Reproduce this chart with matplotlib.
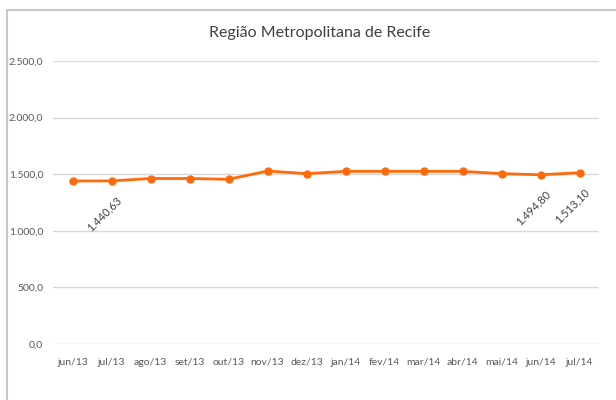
import matplotlib
matplotlib.use("Agg")
import matplotlib.pyplot as plt
from matplotlib.patches import Rectangle
from matplotlib.ticker import FuncFormatter

plt.rcParams['font.family'] = ['Lato', 'DejaVu Sans']

categories = ["jun/13", "jul/13", "ago/13", "set/13", "out/13", "nov/13", "dez/13",
              "jan/14", "fev/14", "mar/14", "abr/14", "mai/14", "jun/14", "jul/14"]
values = [1440.0, 1440.63, 1462.0, 1462.0, 1455.0, 1528.0, 1505.0,
          1525.0, 1525.0, 1525.0, 1525.0, 1505.0, 1494.80, 1513.10]
labeled = {1: "1.440,63", 12: "1.494,80", 13: "1.513,10"}
yticks = [0, 500, 1000, 1500, 2000, 2500]
title = "Região Metropolitana de Recife"

W, H = 616, 400
fig = plt.figure(figsize=(W / 100, H / 100), dpi=100)
ax = fig.add_axes([53 / W, 1 - 344 / H, (599 - 53) / W, (344 - 61) / H])

x = list(range(len(categories)))
ax.plot(x, values, color="#FF6A0A", lw=2.0, marker="o", ms=5, zorder=3,
        solid_capstyle="round")

for i, txt in labeled.items():
    ax.annotate(txt, (x[i], values[i]), xytext=(-7, -33), textcoords="offset pixels",
                ha="center", va="center", rotation=45, fontsize=8, color="#404040")

ax.set_xlim(-0.5, len(categories) - 0.5)
ax.set_ylim(0, 2500)
ax.set_yticks(yticks)
ax.yaxis.set_major_formatter(FuncFormatter(
    lambda v, p: f"{v:,.1f}".replace(",", "X").replace(".", ",").replace("X", ".")))
ax.set_xticks(x)
ax.set_xticklabels(categories)
ax.grid(axis="y", color="#D9D9D9", lw=1)
ax.set_axisbelow(True)
for s in ax.spines.values():
    s.set_visible(False)
ax.tick_params(axis="both", length=0, labelsize=7.5, colors="#595959")
ax.tick_params(axis="y", pad=7)
ax.tick_params(axis="x", pad=10)

fig.text(320 / W, 1 - 33 / H, title, ha="center", va="center", fontsize=11.5, color="#404040")

fig.patches.append(Rectangle((7 / W, -0.1), 1.2, 1 - 10 / H + 0.1, transform=fig.transFigure,
                             fill=False, edgecolor="#C8C8C8", lw=1.5))

fig.savefig("out.png", dpi=100, facecolor="white")
